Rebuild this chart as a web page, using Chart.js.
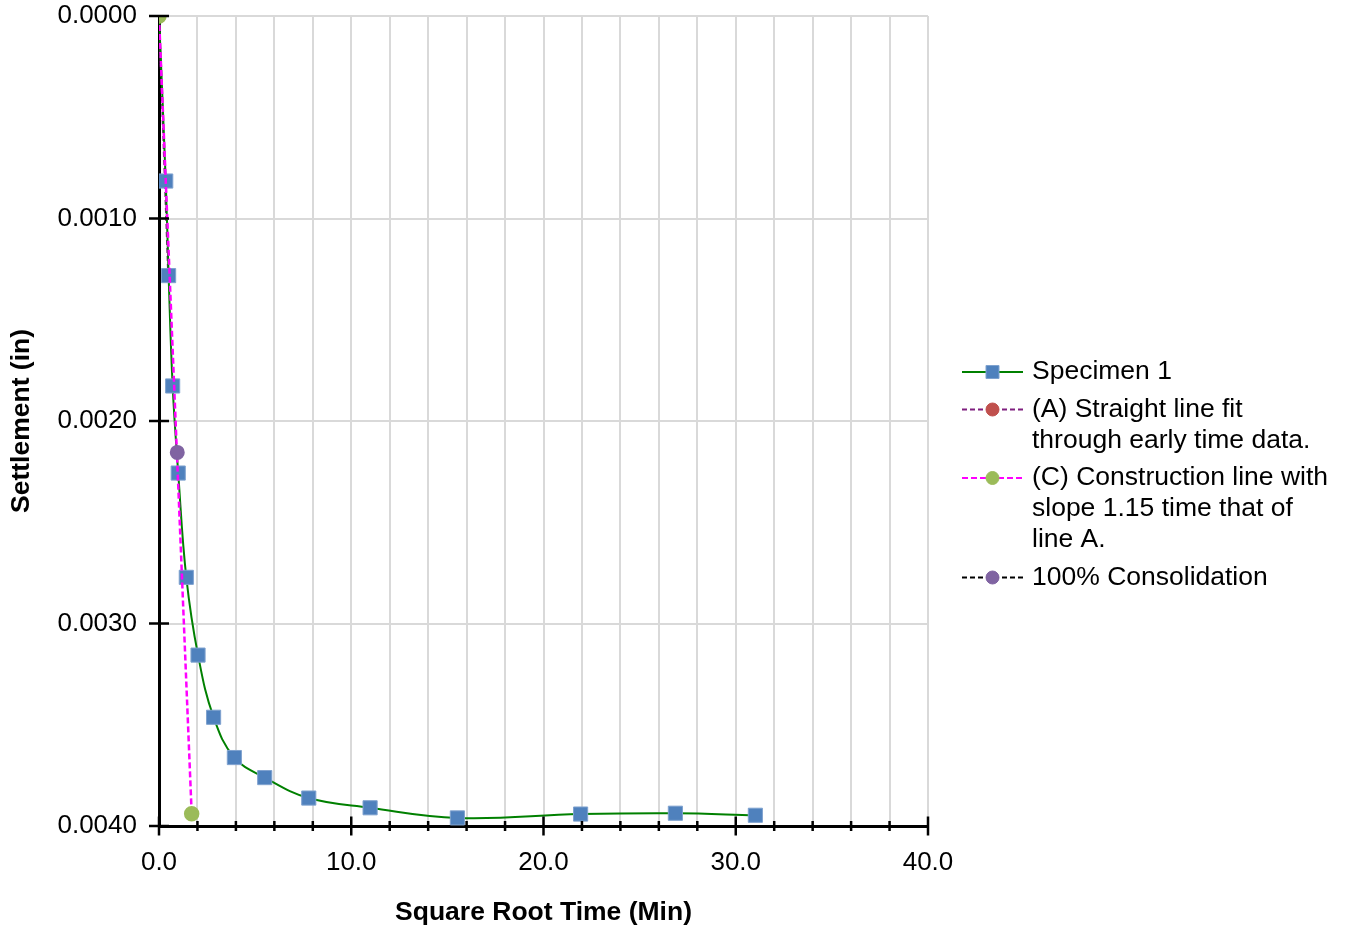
<!DOCTYPE html>
<html>
<head>
<meta charset="utf-8">
<title>Square Root Time - Settlement</title>
<script src="https://cdn.jsdelivr.net/npm/chart.js@4.4.0/dist/chart.umd.min.js"></script>
<style>
	html, body { margin: 0; padding: 0; background: #fff; }
	#wrap { width: 1346px; height: 930px; position: relative; }
</style>
</head>
<body>
<div id="wrap"><canvas id="settlementChart"></canvas></div>
<script>
// Specimen 1 : căn bậc hai thời gian (min) và độ lún (in)
const sqrtTime = [0, 0.35, 0.50, 0.71, 1.00, 1.42, 2.03, 2.84, 3.92, 5.50, 7.79, 10.98, 15.52, 21.93, 26.86, 31.02];
const settlement = [0, 0.000815, 0.001282, 0.001827, 0.002257, 0.002772, 0.003156, 0.003463, 0.003662, 0.003761, 0.003862, 0.003910, 0.003960, 0.003941, 0.003937, 0.003947];

// (A) đường thẳng qua dữ liệu đầu
const lineAX = [0, 0.48];
const lineAY = [0, 0.00128];

// (C) đường dựng, độ dốc 1.15 lần đường A
const lineCX = [0, 1.70];
const lineCY = [0, 0.00394];

// 100% cố kết
const consolX = [0.95];
const consolY = [0.002155];

// trục
const xMin = 0, xMax = 40, xStep = 2, xLabelEvery = 10;
const yMin = 0, yMax = 0.004, yStep = 0.001;

const FONT = "'Liberation Sans', Arial, sans-serif";

function toPoints(xs, ys) {
	return xs.map((x, i) => ({ x: x, y: ys[i] }));
}

// vạch chia cắt qua trục (như Excel)
const axisTicks = {
	id: 'axisTicks',
	afterDraw(chart) {
		const ctx = chart.ctx;
		const x = chart.scales.x, y = chart.scales.y;
		const area = chart.chartArea;
		ctx.save();
		ctx.strokeStyle = '#000';
		ctx.lineWidth = 2.5;
		x.ticks.forEach(t => {
			const px = x.getPixelForValue(t.value);
			const half = (Math.round(t.value) % xLabelEvery === 0) ? 9.5 : 5;
			ctx.beginPath();
			ctx.moveTo(px, area.bottom - half);
			ctx.lineTo(px, area.bottom + half);
			ctx.stroke();
		});
		y.ticks.forEach(t => {
			const py = y.getPixelForValue(t.value);
			ctx.beginPath();
			ctx.moveTo(area.left - 10, py);
			ctx.lineTo(area.left + 10, py);
			ctx.stroke();
		});
		ctx.restore();
	}
};

// chú thích nhiều dòng bên phải
const sideLegend = {
	id: 'sideLegend',
	afterDraw(chart) {
		const ctx = chart.ctx;
		const area = chart.chartArea;
		const symX0 = area.right + 34, symX1 = area.right + 95;
		const textX = area.right + 104;
		const lineH = 31, gap = 6.5;
		let yPos = 372;
		ctx.save();
		ctx.font = '26.5px ' + FONT;
		ctx.fillStyle = '#000';
		ctx.textBaseline = 'middle';
		ctx.textAlign = 'left';
		chart.data.datasets.forEach(ds => {
			// đường
			ctx.save();
			ctx.strokeStyle = ds.borderColor;
			ctx.lineWidth = 2;
			ctx.setLineDash(ds.borderDash || []);
			ctx.beginPath();
			ctx.moveTo(symX0, yPos);
			ctx.lineTo(symX1, yPos);
			ctx.stroke();
			ctx.restore();
			// điểm
			const mx = (symX0 + symX1) / 2;
			ctx.save();
			ctx.fillStyle = ds.pointBackgroundColor;
			ctx.strokeStyle = ds.pointBorderColor;
			ctx.lineWidth = 1;
			ctx.beginPath();
			if (ds.pointStyle === 'rect') {
				ctx.rect(mx - 6.5, yPos - 6.5, 13, 13);
			} else {
				ctx.arc(mx, yPos, 6.5, 0, Math.PI * 2);
			}
			ctx.fill();
			ctx.stroke();
			ctx.restore();
			// chữ
			const lines = Array.isArray(ds.label) ? ds.label : [ds.label];
			lines.forEach((s, i) => ctx.fillText(s, textX, yPos + i * lineH));
			yPos += lines.length * lineH + gap;
		});
		ctx.restore();
	}
};

Chart.defaults.font.family = FONT;
Chart.defaults.color = '#000';

const ctx = document.getElementById('settlementChart').getContext('2d');
new Chart(ctx, {
	type: 'scatter',
	data: {
		datasets: [{
			label: 'Specimen 1',
			data: toPoints(sqrtTime, settlement),
			showLine: true,
			borderColor: '#008000',
			borderWidth: 2,
			tension: 0.4,
			pointStyle: 'rect',
			pointRadius: settlement.map(v => v === 0 ? 0 : 10),
			pointBackgroundColor: '#4F81BD',
			pointBorderColor: '#7FA2CF',
			pointBorderWidth: 1,
			order: 3
		}, {
			label: ['(A) Straight line fit', 'through early time data.'],
			data: toPoints(lineAX, lineAY),
			showLine: true,
			borderColor: '#7F1F7F',
			borderWidth: 2,
			borderDash: [5, 3],
			pointStyle: 'circle',
			pointRadius: 6,
			pointBackgroundColor: '#C0504D',
			pointBorderColor: '#C0504D',
			order: 4
		}, {
			label: ['(C) Construction line with', 'slope 1.15 time that of', 'line A.'],
			data: toPoints(lineCX, lineCY),
			showLine: true,
			borderColor: '#FF00FF',
			borderWidth: 2.5,
			borderDash: [6, 3],
			pointStyle: 'circle',
			pointRadius: 6.5,
			pointBackgroundColor: '#9BBB59',
			pointBorderColor: '#9BBB59',
			order: 1
		}, {
			label: '100% Consolidation',
			data: toPoints(consolX, consolY),
			showLine: true,
			borderColor: '#000000',
			borderWidth: 2,
			borderDash: [5, 3],
			pointStyle: 'circle',
			pointRadius: 6.5,
			pointBackgroundColor: '#8064A2',
			pointBorderColor: '#8064A2',
			order: 0
		}]
	},
	options: {
		responsive: true,
		maintainAspectRatio: false,
		animation: false,
		layout: {
			padding: { left: 0, top: 16, right: 418, bottom: 0 }
		},
		plugins: {
			legend: { display: false },
			tooltip: { enabled: false }
		},
		scales: {
			x: {
				type: 'linear',
				min: xMin,
				max: xMax,
				afterFit: s => { s.height = 104; s.paddingLeft = 0; s.paddingRight = 0; },
				grid: { color: '#D9D9D9', lineWidth: 2, drawTicks: false },
				border: { color: '#000', width: 3 },
				ticks: {
					stepSize: xStep,
					autoSkip: false,
					maxRotation: 0,
					minRotation: 0,
					padding: 21,
					font: { size: 26 },
					callback: v => (Math.round(v) % xLabelEvery === 0) ? v.toFixed(1) : ''
				},
				title: {
					display: true,
					text: 'Square Root Time (Min)',
					font: { size: 26.5, weight: 'bold' },
					padding: { top: 0, bottom: 1 }
				}
			},
			y: {
				type: 'linear',
				reverse: true,
				min: yMin,
				max: yMax,
				afterFit: s => { s.width = 159; s.paddingTop = 0; s.paddingBottom = 0; },
				grid: { color: '#D9D9D9', lineWidth: 2, drawTicks: false },
				border: { color: '#000', width: 3 },
				ticks: {
					stepSize: yStep,
					padding: 22,
					font: { size: 26 },
					callback: v => v.toFixed(4)
				},
				title: {
					display: true,
					text: 'Settlement (in)',
					font: { size: 26.5, weight: 'bold' },
					padding: { top: 6, bottom: 0 }
				}
			}
		}
	},
	plugins: [axisTicks, sideLegend]
});
</script>
</body>
</html>
